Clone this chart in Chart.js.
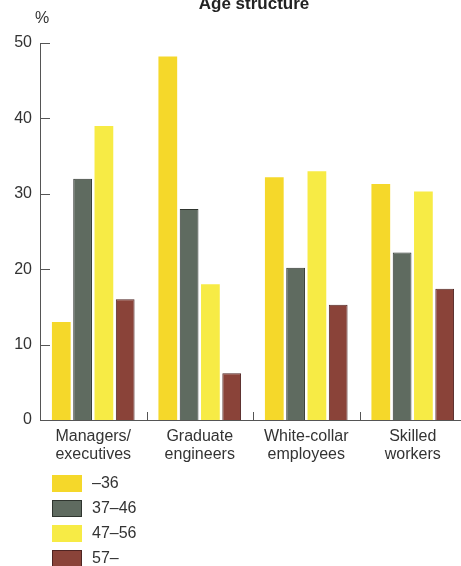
<!DOCTYPE html>
<html>
<head>
<meta charset="utf-8">
<script src="https://cdn.jsdelivr.net/npm/chart.js@4/dist/chart.umd.min.js"></script>
<style>
  html, body { margin: 0; padding: 0; background: #fff; overflow: hidden; }
  #wrap { width: 466px; height: 566px; }
</style>
</head>
<body>
<div id="wrap"><canvas id="ageChart" width="466" height="566"></canvas></div>
<script>
// Datos del gráfico
const categorias = [['Managers/', 'executives'], ['Graduate', 'engineers'], ['White-collar', 'employees'], ['Skilled', 'workers']];
const grupos = ['–36', '37–46', '47–56', '57–'];
const hasta36 = [13, 48.2, 32.2, 31.3];
const de37a46 = [32, 28, 20.2, 22.2];
const de47a56 = [39, 18, 33, 30.3];
const desde57 = [16, 6.2, 15.3, 17.4];
const ticksY = [0, 10, 20, 30, 40, 50];

const colores = ['#f5d82a', '#5f6b60', '#f7eb45', '#8a4339'];
const bordes = ['#f5d82a', '#2f352f', '#f7eb45', '#4f2422'];
const FUENTE = '"Liberation Sans", Arial, Helvetica, sans-serif';
const TEXTO = '#333';

// Plugin para título, marcas interiores y leyenda vertical
const extras = {
    id: 'extras',
    afterDraw(chart) {
        const ctx = chart.ctx;
        const y = chart.scales.y;
        const x = chart.scales.x;
        const area = chart.chartArea;
        ctx.save();

        // título y unidad
        ctx.fillStyle = '#222';
        ctx.font = 'bold 17px ' + FUENTE;
        ctx.textAlign = 'center';
        ctx.textBaseline = 'alphabetic';
        ctx.fillText('Age structure', 254, 9);
        ctx.fillStyle = TEXTO;
        ctx.font = '16px ' + FUENTE;
        ctx.textAlign = 'left';
        ctx.fillText('%', 35, 23);

        // marcas del eje Y hacia dentro
        ctx.strokeStyle = '#555';
        ctx.lineWidth = 1;
        ticksY.slice(1).forEach(v => {
            const py = Math.round(y.getPixelForValue(v)) + 0.5;
            ctx.beginPath();
            ctx.moveTo(area.left, py);
            ctx.lineTo(area.left + 10, py);
            ctx.stroke();
        });

        // separadores entre categorías
        for (let i = 1; i < categorias.length; i++) {
            const px = Math.round((x.getPixelForTick(i - 1) + x.getPixelForTick(i)) / 2) + 0.5;
            ctx.beginPath();
            ctx.moveTo(px, area.bottom);
            ctx.lineTo(px, area.bottom - 8);
            ctx.stroke();
        }

        // leyenda
        chart.data.datasets.forEach((ds, i) => {
            const top = 475 + i * 25;
            ctx.fillStyle = ds.backgroundColor;
            ctx.fillRect(52, top, 30, 17);
            if (ds.borderWidth) {
                ctx.strokeStyle = ds.borderColor;
                ctx.strokeRect(52.5, top + 0.5, 29, 16);
            }
            ctx.fillStyle = TEXTO;
            ctx.font = '16px ' + FUENTE;
            ctx.textBaseline = 'middle';
            ctx.fillText(ds.label, 92, top + 9);
        });
        ctx.restore();
    }
};

const series = [hasta36, de37a46, de47a56, desde57];

new Chart(document.getElementById('ageChart').getContext('2d'), {
    type: 'bar',
    data: {
        labels: categorias,
        datasets: series.map((d, i) => ({
            label: grupos[i],
            data: d,
            backgroundColor: colores[i],
            borderColor: bordes[i],
            borderWidth: (i === 1 || i === 3) ? 1 : 0,
            categoryPercentage: 0.8,
            barPercentage: 0.88
        }))
    },
    options: {
        responsive: false,
        animation: false,
        layout: { padding: { top: 43, right: 0, bottom: 90, left: 0 } },
        plugins: {
            legend: { display: false },
            title: { display: false },
            tooltip: { enabled: false }
        },
        scales: {
            x: {
                grid: { display: false, drawTicks: false },
                border: { display: true, color: '#555' },
                ticks: {
                    color: TEXTO,
                    padding: 7,
                    font: { size: 16, family: FUENTE, lineHeight: 1.15 },
                    maxRotation: 0
                },
                afterFit(scale) { scale.height = 56; }
            },
            y: {
                min: 0,
                max: 50,
                grid: { display: false, drawTicks: false },
                border: { display: true, color: '#555' },
                ticks: {
                    stepSize: 10,
                    color: TEXTO,
                    padding: 8,
                    font: { size: 16, family: FUENTE }
                },
                afterFit(scale) { scale.width = 40; }
            }
        }
    },
    plugins: [extras]
});
</script>
</body>
</html>
